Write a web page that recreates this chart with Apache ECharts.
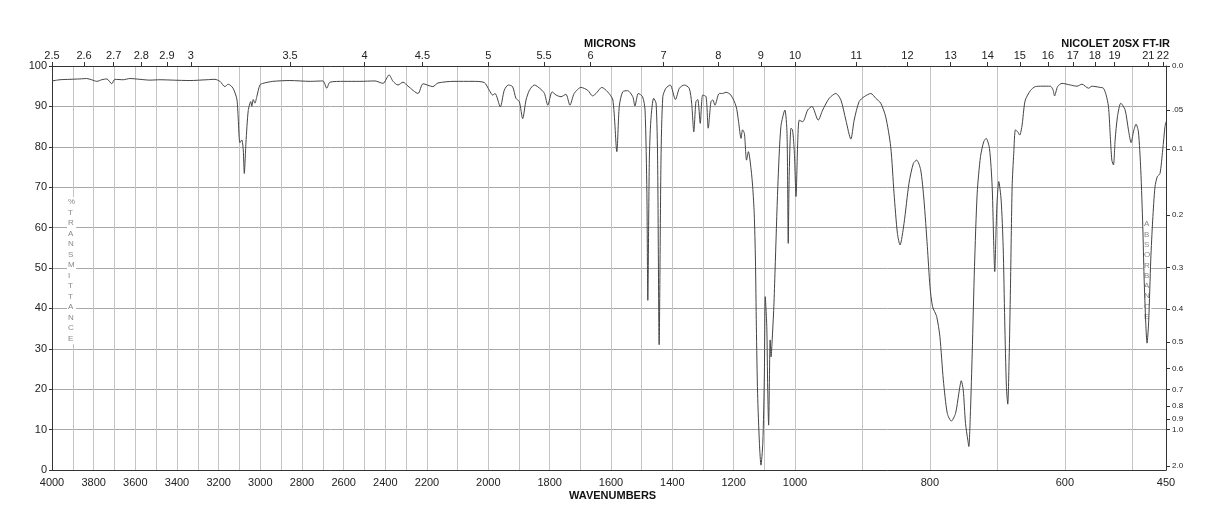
<!DOCTYPE html>
<html>
<head>
<meta charset="utf-8">
<title>IR spectrum</title>
<script src="https://cdn.jsdelivr.net/npm/echarts@6/dist/echarts.min.js"></script>
<style>
  html, body { margin: 0; padding: 0; background: #fff; }
  #chart { width: 1218px; height: 528px; }
</style>
</head>
<body>
<div id="chart"></div>
<script>
// spectrum: wavenumber (cm-1) and %T
const wavenumbers = [
  4000, 3962, 3914, 3866, 3834, 3810, 3785, 3761, 3737, 3713, 3698, 3658, 3626, 3578, 3530, 3482, 3418, 3338, 3257, 3218,
  3194, 3170, 3154, 3131, 3112, 3098, 3089, 3082, 3077, 3069, 3058, 3046, 3041, 3034, 3026, 3017, 3002, 2987, 2940, 2858,
  2760, 2700, 2681, 2666, 2600, 2522, 2450, 2411, 2382, 2363, 2339, 2315, 2291, 2243, 2219, 2181, 2164, 2112, 2050, 2013,
  1997, 1986, 1978, 1961, 1948, 1935, 1921, 1910, 1899, 1888, 1877, 1866, 1850, 1828, 1817, 1806, 1792, 1779, 1763, 1747,
  1734, 1720, 1698, 1676, 1660, 1649, 1630, 1611, 1594, 1581, 1573, 1562, 1546, 1529, 1522, 1511, 1497, 1489, 1483, 1480,
  1475, 1470, 1461, 1453, 1448, 1443, 1437, 1431, 1421, 1407, 1390, 1377, 1361, 1345, 1337, 1330, 1323, 1317, 1309, 1301,
  1290, 1283, 1274, 1268, 1261, 1247, 1236, 1225, 1209, 1192, 1184, 1176, 1171, 1165, 1158, 1152, 1143, 1138, 1133, 1129,
  1126, 1122, 1116, 1111, 1105, 1100, 1097, 1092, 1089, 1086, 1081, 1078, 1075, 1069, 1065, 1056, 1046, 1033, 1026, 1022,
  1019, 1013, 1008, 1002, 998.5, 996, 993.6, 988.6, 981.2, 974.9, 965.6, 959, 949.3, 939.4, 932, 924.6, 917.2, 912.3, 904.9, 897.5,
  887.6, 880.2, 872.9, 865.5, 858.1, 853.2, 848.2, 844.3, 838.4, 831, 824.5, 819.6, 813.7, 808.8, 803.8, 799.9, 796, 790, 785.2, 780.1,
  774.2, 768.3, 762, 757.1, 753.5, 750.6, 747.2, 743.8, 742.3, 739.8, 737.3, 733.9, 729.9, 725, 720.1, 716.6, 711.7, 707.7, 705.3, 703.9,
  701.8, 700.3, 697.9, 694.4, 691.4, 689.1, 686.6, 684.6, 682.6, 680.6, 678.1, 675.7, 673.2, 669.8, 666.9, 663.3, 660.9, 658.5, 651.1, 643.7,
  633.8, 621.5, 617.5, 615.2, 610.7, 604.2, 591.9, 582, 574.6, 564.9, 559.8, 547.6, 542.7, 538.7, 535.3, 532.8, 530.3, 527.9, 525.4, 522,
  517, 510.6, 505.7, 501.7, 498.3, 494.4, 490.9, 487.4, 484.4, 482.5, 480, 478.1, 475.6, 472.6, 469.7, 466.3, 462.9, 458.9, 454.9, 451.5,
  450
];
const transmittance = [
  96.3, 96.6, 96.7, 96.8, 96.9, 96.6, 96.2, 96.6, 96.8, 95.6, 96.7, 96.6, 96.9, 96.7, 96.5, 96.6, 96.5, 96.4, 96.6, 96.7,
  96.2, 94.9, 95.5, 94.5, 91.6, 81.0, 81.7, 79.2, 73.4, 81.0, 89.0, 91.2, 90.0, 91.7, 90.8, 92.4, 95.3, 95.7, 96.2, 96.4,
  96.2, 96.3, 94.5, 96.0, 96.2, 96.2, 96.3, 95.7, 97.8, 96.2, 95.3, 96.0, 95.0, 93.2, 95.6, 94.9, 95.8, 96.2, 96.2, 95.9,
  94.0, 92.8, 93.2, 89.9, 94.0, 95.3, 94.9, 92.0, 91.2, 87.0, 91.6, 94.0, 95.3, 94.2, 93.2, 90.3, 93.6, 92.8, 92.4, 93.0,
  90.3, 93.2, 94.7, 94.0, 92.6, 93.2, 94.7, 93.6, 91.6, 78.8, 90.0, 93.6, 93.9, 92.4, 90.1, 93.2, 92.4, 89.1, 68.5, 42.0,
  76.7, 86.6, 92.0, 90.8, 76.7, 31.0, 76.7, 92.4, 94.5, 95.3, 91.7, 94.5, 95.3, 94.5, 90.8, 83.7, 91.2, 91.7, 85.8, 92.8,
  92.4, 84.6, 91.2, 91.6, 90.3, 93.2, 93.2, 93.5, 92.8, 90.0, 86.2, 82.1, 84.2, 83.3, 76.7, 78.8, 74.3, 70.1, 63.5, 52.0,
  35.5, 19.0, 6.6, 1.2, 6.6, 23.0, 42.9, 35.5, 20.0, 11.1, 32.2, 28.0, 31.4, 40.4, 49.5, 70.1, 85.0, 89.1, 83.3, 56.1,
  72.6, 84.6, 84.2, 78.4, 67.7, 80.9, 86.6, 86.2, 89.1, 90.0, 86.6, 89.1, 92.0, 93.2, 91.6, 86.6, 81.9, 86.6, 91.2, 92.4,
  93.2, 92.0, 90.8, 87.4, 80.0, 68.5, 58.6, 55.7, 61.0, 71.0, 75.9, 76.7, 74.3, 66.8, 55.3, 45.4, 40.4, 38.0, 33.0, 22.3,
  14.0, 12.1, 14.0, 19.0, 22.1, 19.8, 11.5, 7.4, 5.8, 14.9, 28.9, 50.3, 68.5, 77.6, 81.3, 82.1, 79.6, 70.1, 55.3, 49.1,
  60.2, 66.8, 71.4, 66.8, 55.3, 37.1, 20.6, 16.3, 27.2, 45.0, 70.1, 78.4, 84.2, 83.7, 82.9, 85.4, 89.1, 91.6, 93.9, 94.9,
  95.0, 95.0, 94.1, 92.6, 94.9, 95.7, 95.3, 95.0, 95.5, 94.5, 95.0, 94.7, 94.5, 92.8, 90.0, 83.3, 76.7, 75.5, 81.7, 87.4,
  90.8, 89.1, 84.2, 81.0, 83.7, 85.6, 83.7, 74.3, 60.2, 47.8, 36.3, 31.4, 37.1, 52.0, 61.9, 70.1, 72.6, 73.4, 79.2, 85.0,
  86.2
];

// axis labels
const wavenumberLabels = [4000, 3800, 3600, 3400, 3200, 3000, 2800, 2600, 2400, 2200, 2000, 1800, 1600, 1400, 1200, 1000, 800, 600, 450];
const micronLabels = [2.5, 2.6, 2.7, 2.8, 2.9, 3, 3.5, 4, 4.5, 5, 5.5, 6, 7, 8, 9, 10, 11, 12, 13, 14, 15, 16, 17, 18, 19, 21, 22];
const absorbanceValues = [0, 0.05, 0.1, 0.2, 0.3, 0.4, 0.5, 0.6, 0.7, 0.8, 0.9, 1.0, 2.0];
const absorbanceLabels = ['0.0', '.05', '0.1', '0.2', '0.3', '0.4', '0.5', '0.6', '0.7', '0.8', '0.9', '1.0', '2.0'];

/*
* the chart paper changes scale at 2200 and at 1000 cm-1,
* so the x axis runs on a piecewise linear coordinate
*/
const toU = (wn) => {
  if (wn >= 2200) return (4000 - wn) * 375 / 1800;
  if (wn >= 1000) return 375 + (2200 - wn) * 368 / 1200;
  return 743 + (1000 - wn) * 371 / 550;
}
const fromU = (u) => {
  if (u <= 375) return 4000 - u * 1800 / 375;
  if (u <= 743) return 2200 - (u - 375) * 1200 / 368;
  return 1000 - (u - 743) * 550 / 371;
}

let gridLines = [];
for (let w = 3900; w >= 500; w -= 100) gridLines.push(toU(w));

const spectrum = wavenumbers.map((w, i) => [toU(w), transmittance[i]]);

const font = '"Liberation Sans", Arial, sans-serif';

let chartDom = document.getElementById('chart');
let myChart = echarts.init(chartDom);
let option;

option = {
  animation: false,
  backgroundColor: '#fff',
  grid: { left: 52, right: 52, top: 66, bottom: 58 },
  xAxis: [
    {
      type: 'value',
      position: 'bottom',
      min: 0,
      max: toU(450),
      axisLine: { show: true, onZero: false, lineStyle: { color: '#333', width: 1 } },
      axisTick: { show: false, customValues: gridLines },
      splitLine: { show: true, lineStyle: { color: '#c4c4c4', width: 1 } },
      axisLabel: {
        customValues: wavenumberLabels.map(toU),
        formatter: (v) => String(Math.round(fromU(v))),
        color: '#222', fontSize: 11, fontFamily: font, margin: 7
      }
    },
    {
      type: 'value',
      position: 'top',
      min: 0,
      max: toU(450),
      axisLine: { show: true, onZero: false, lineStyle: { color: '#333', width: 1 } },
      axisTick: { show: true, inside: false, length: 4, customValues: micronLabels.map(m => toU(10000 / m)), lineStyle: { color: '#333' } },
      splitLine: { show: false },
      axisLabel: {
        customValues: micronLabels.map(m => toU(10000 / m)),
        formatter: (v) => String(Math.round(10000 / fromU(v) * 10) / 10),
        color: '#222', fontSize: 11, fontFamily: font, margin: 5
      }
    }
  ],
  yAxis: [
    {
      type: 'value',
      position: 'left',
      min: 0,
      max: 100,
      interval: 10,
      axisLine: { show: true, onZero: false, lineStyle: { color: '#333', width: 1 } },
      axisTick: { show: true, length: 3, lineStyle: { color: '#333' } },
      splitLine: { show: true, lineStyle: { color: '#a8a8a8', width: 1 } },
      axisLabel: { color: '#222', fontSize: 11, fontFamily: font, margin: 5 }
    },
    {
      type: 'value',
      position: 'right',
      min: 0,
      max: 100,
      axisLine: { show: true, onZero: false, lineStyle: { color: '#333', width: 1 } },
      axisTick: { show: true, length: 4, customValues: absorbanceValues.map(a => 100 * Math.pow(10, -a)), lineStyle: { color: '#333' } },
      splitLine: { show: false },
      axisLabel: {
        customValues: absorbanceValues.map(a => 100 * Math.pow(10, -a)),
        formatter: (v) => {
          let best = 0;
          absorbanceValues.forEach((a, i) => {
            if (Math.abs(100 * Math.pow(10, -a) - v) < Math.abs(100 * Math.pow(10, -absorbanceValues[best]) - v)) best = i;
          });
          return absorbanceLabels[best];
        },
        color: '#222', fontSize: 8, fontFamily: font, margin: 6
      }
    }
  ],
  graphic: [
    { type: 'text', left: 609 - 25, top: 38, style: { text: 'MICRONS', font: 'bold 11px ' + font, fill: '#111' } },
    { type: 'text', right: 48, top: 38, style: { text: 'NICOLET 20SX FT-IR', font: 'bold 11px ' + font, fill: '#111' } },
    { type: 'text', left: 609 - 40, top: 490, style: { text: 'WAVENUMBERS', font: 'bold 11px ' + font, fill: '#111' } },
    {
      type: 'text', left: 67, top: 197, z: 1,
      style: { text: '%\nT\nR\nA\nN\nS\nM\nI\nT\nT\nA\nN\nC\nE', font: '8px ' + font, fill: '#888', lineHeight: 10.5, align: 'center', backgroundColor: '#fff', padding: [0, 1] }
    },
    {
      type: 'text', left: 1143, top: 219, z: 1,
      style: { text: 'A\nB\nS\nO\nR\nB\nA\nN\nC\nE', font: '8px ' + font, fill: '#888', lineHeight: 10.3, align: 'center', backgroundColor: '#fff', padding: [0, 1] }
    }
  ],
  series: [
    {
      name: 'spectrum',
      type: 'line',
      xAxisIndex: 0,
      yAxisIndex: 0,
      data: spectrum,
      showSymbol: false,
      smooth: 0.25,
      lineStyle: { color: '#444', width: 1 },
      z: 5
    }
  ]
};
option && myChart.setOption(option);
</script>
</body>
</html>
